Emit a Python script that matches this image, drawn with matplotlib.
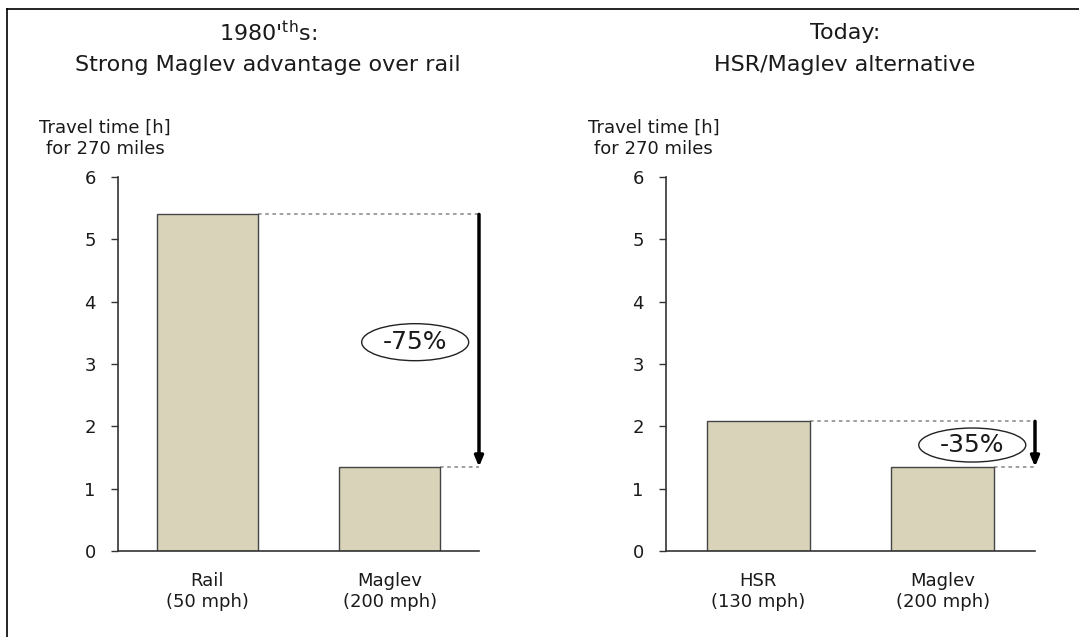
import matplotlib
matplotlib.use("Agg")
import matplotlib.pyplot as plt
from matplotlib.patches import Ellipse
from matplotlib.lines import Line2D

plt.rcParams['font.family'] = ['DejaVu Sans']

left_categories = ["Rail\n(50 mph)", "Maglev\n(200 mph)"]
left_values = [5.4, 1.35]
left_change = "-75%"
right_categories = ["HSR\n(130 mph)", "Maglev\n(200 mph)"]
right_values = [2.08, 1.35]
right_change = "-35%"
yticks = [0, 1, 2, 3, 4, 5, 6]

BAR = "#D9D4B9"
EDGE = "#444444"
SPINE = "#333333"
TC = "#1a1a1a"

fig = plt.figure(figsize=(10.79, 6.37), dpi=100)

# outer frame (left and top edges visible)
fig.add_artist(Line2D([7/1079, 7/1079], [0, 1 - 9/637], transform=fig.transFigure, color="black", lw=1.2))
fig.add_artist(Line2D([7/1079, 1], [1 - 9/637, 1 - 9/637], transform=fig.transFigure, color="black", lw=1.2))


def panel(rect, cats, vals, xlim, bw, change, ell_xy, ell_wh):
    ax = fig.add_axes(rect)
    x = list(range(len(vals)))
    ax.bar(x, vals, width=bw, color=BAR, edgecolor=EDGE, linewidth=1.0, zorder=2)
    ax.set_xlim(*xlim)
    ax.set_ylim(0, 6)
    ax.set_yticks(yticks)
    ax.set_xticks(x)
    ax.set_xticklabels(cats, fontsize=13, color=TC, linespacing=1.2)
    ax.tick_params(axis="x", length=0, pad=15)
    ax.tick_params(axis="y", length=5, width=1, color=SPINE, labelsize=13, labelcolor=TC, pad=11)
    for s in ["top", "right"]:
        ax.spines[s].set_visible(False)
    for s in ["left", "bottom"]:
        ax.spines[s].set_color(SPINE)
        ax.spines[s].set_linewidth(1.2)
    xr = xlim[1]
    # dotted guide lines
    ax.plot([x[0] + bw / 2, xr], [vals[0], vals[0]], color="#999999", lw=1.3,
            linestyle=(0, (2, 2)), clip_on=False, zorder=1)
    ax.plot([x[1] + bw / 2, xr], [vals[1], vals[1]], color="#999999", lw=1.3,
            linestyle=(0, (2, 2)), clip_on=False, zorder=1)
    # arrow
    ax.annotate("", xy=(xr, vals[1]), xytext=(xr, vals[0]),
                arrowprops=dict(arrowstyle="-|>,head_width=0.25,head_length=0.6",
                                color="black", lw=2.5, shrinkA=0, shrinkB=0),
                annotation_clip=False)
    # ellipse label (size in pixels converted to data units)
    pw = ax.get_position().width * 1079
    ph = ax.get_position().height * 637
    ew = ell_wh[0] / pw * (xlim[1] - xlim[0])
    eh = ell_wh[1] / ph * 6
    ax.add_patch(Ellipse(ell_xy, ew, eh, facecolor="white", edgecolor="#222222", lw=1.0, zorder=3))
    ax.text(ell_xy[0], ell_xy[1], change, ha="center", va="center", fontsize=18,
            color=TC, zorder=4)
    return ax


panel([118/1079, 1 - 551/637, (479 - 118)/1079, (551 - 177)/637],
      left_categories, left_values, (-0.49, 1.49), 0.555, left_change,
      (1.14, 3.35), (107, 37))
panel([666/1079, 1 - 551/637, (1035 - 666)/1079, (551 - 177)/637],
      right_categories, right_values, (-0.5, 1.5), 0.56, right_change,
      (1.16, 1.70), (107, 34))

fig.text(268/1079, 1 - 33/637, r"1980'$^{\mathrm{th}}$s:", ha="center", va="center", fontsize=16, color=TC)
fig.text(268/1079, 1 - 65/637, "Strong Maglev advantage over rail", ha="center", va="center", fontsize=16, color=TC)
fig.text(845/1079, 1 - 33/637, "Today:", ha="center", va="center", fontsize=16, color=TC)
fig.text(845/1079, 1 - 65/637, "HSR/Maglev alternative", ha="center", va="center", fontsize=16, color=TC)

fig.text(39/1079, 1 - 128/637, "Travel time [h]", ha="left", va="center", fontsize=13, color=TC)
fig.text(46/1079, 1 - 149/637, "for 270 miles", ha="left", va="center", fontsize=13, color=TC)
fig.text(588/1079, 1 - 128/637, "Travel time [h]", ha="left", va="center", fontsize=13, color=TC)
fig.text(594/1079, 1 - 149/637, "for 270 miles", ha="left", va="center", fontsize=13, color=TC)

fig.savefig("out.png", dpi=100)
